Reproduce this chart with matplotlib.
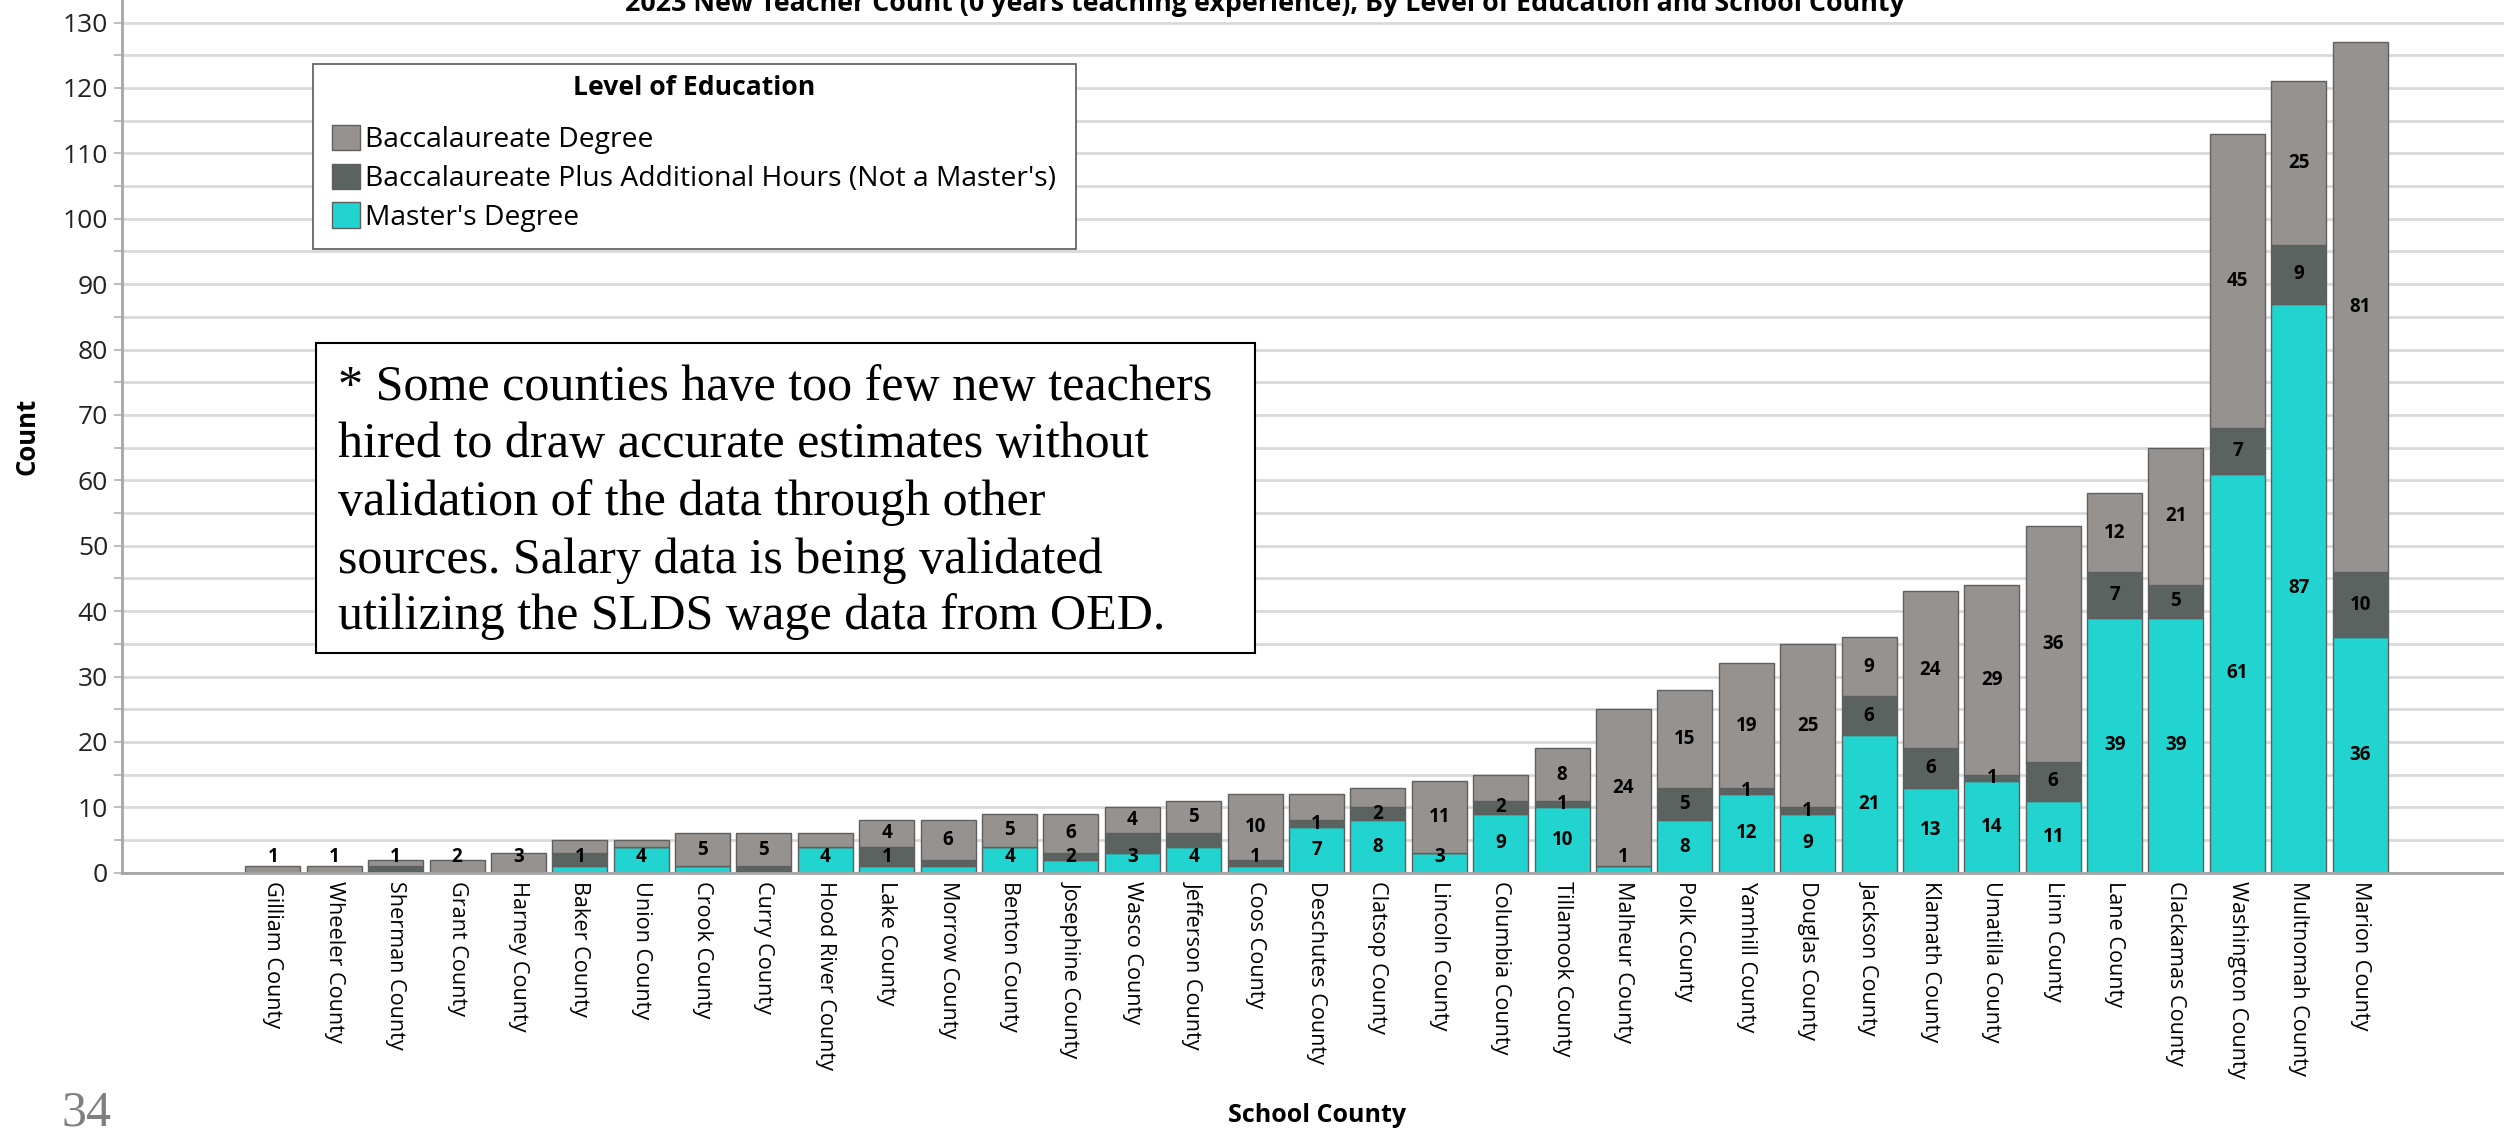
import numpy as np
import matplotlib
matplotlib.use("Agg")
import matplotlib.pyplot as plt
from matplotlib import font_manager as fm
from matplotlib.patches import Rectangle

# ---------------- data ----------------
counties = ["Gilliam County", "Wheeler County", "Sherman County", "Grant County", "Harney County",
            "Baker County", "Union County", "Crook County", "Curry County", "Hood River County",
            "Lake County", "Morrow County", "Benton County", "Josephine County", "Wasco County",
            "Jefferson County", "Coos County", "Deschutes County", "Clatsop County", "Lincoln County",
            "Columbia County", "Tillamook County", "Malheur County", "Polk County", "Yamhill County",
            "Douglas County", "Jackson County", "Klamath County", "Umatilla County", "Linn County",
            "Lane County", "Clackamas County", "Washington County", "Multnomah County", "Marion County"]
masters = [0, 0, 0, 0, 0, 1, 4, 1, 0, 4, 1, 1, 4, 2, 3, 4, 1, 7, 8, 3,
           9, 10, 1, 8, 12, 9, 21, 13, 14, 11, 39, 39, 61, 87, 36]
bacc_plus = [0, 0, 1, 0, 0, 2, 0, 0, 1, 0, 3, 1, 0, 1, 3, 2, 1, 1, 2, 0,
             2, 1, 0, 5, 1, 1, 6, 6, 1, 6, 7, 5, 7, 9, 10]
bacc = [1, 1, 1, 2, 3, 2, 1, 5, 5, 2, 4, 6, 5, 6, 4, 5, 10, 4, 3, 11,
        4, 8, 24, 15, 19, 25, 9, 24, 29, 36, 12, 21, 45, 25, 81]
# segments whose value label is not shown in the reference
hidden_masters = ["Crook County", "Morrow County"]
hidden_plus = ["Sherman County", "Baker County", "Curry County", "Lake County", "Morrow County",
               "Josephine County", "Wasco County", "Jefferson County", "Coos County"]
hidden_bacc = ["Baker County", "Union County", "Hood River County", "Deschutes County",
               "Clatsop County", "Columbia County"]
series_names = ["Baccalaureate Degree", "Baccalaureate Plus Additional Hours (Not a Master's)",
                "Master's Degree"]
legend_title = "Level of Education"
title = "2023 New Teacher Count (0 years teaching experience), By Level of Education and School County"
note_lines = ["* Some counties have too few new teachers",
              "hired to draw accurate estimates without",
              "validation of the data through other",
              "sources. Salary data is being validated",
              "utilizing the SLDS wage data from OED."]
y_ticks = list(range(0, 131, 10))

# ---------------- fonts ----------------
names = {f.name for f in fm.fontManager.ttflist}
def pick(*cands):
    for c in cands:
        if c in names:
            return c
    return "DejaVu Sans"
SANS = pick("Open Sans", "Lato", "DejaVu Sans")
NARROW = pick("Liberation Sans Narrow", "Open Sans", "DejaVu Sans")
SERIF = pick("Liberation Serif", "DejaVu Serif")
plt.rcParams["font.family"] = [SANS, "DejaVu Sans"]

C_BACC = "#969290"
C_PLUS = "#5a635f"
C_MAST = "#22d4d0"
EDGE = "#5f5f5f"

W, H = 2504, 1130
fig = plt.figure(figsize=(W / 100, H / 100), dpi=100)
fig.patch.set_facecolor("white")
renderer = fig.canvas.get_renderer()
y0_px = 872.7
ax = fig.add_axes([122 / W, 1 - y0_px / H, 1 - 122 / W, y0_px / H])

x = np.arange(len(counties))
m = np.array(masters, float)
p = np.array(bacc_plus, float)
b = np.array(bacc, float)
bw = 0.896
bm = ax.bar(x, m, width=bw, color=C_MAST, edgecolor=EDGE, linewidth=1.0, zorder=3, label=series_names[2])
bp = ax.bar(x, p, width=bw, bottom=m, color=C_PLUS, edgecolor=EDGE, linewidth=1.0, zorder=3, label=series_names[1])
bb = ax.bar(x, b, width=bw, bottom=m + p, color=C_BACC, edgecolor=EDGE, linewidth=1.0, zorder=3, label=series_names[0])

ax.set_xlim(-2.457, len(counties) - 1 + 2.343)
ax.set_ylim(0, y0_px / 6.54)
ax.set_yticks(y_ticks)
ax.set_yticks(list(range(5, 131, 10)), minor=True)
ax.grid(axis="y", which="both", color="#d9d9d9", linewidth=2, zorder=0)
ax.set_axisbelow(True)
ax.tick_params(axis="y", which="both", length=6, width=1.5, color="#bfbfbf", labelsize=19,
               labelcolor="#222222", pad=4)
ax.set_xticks(x)
ax.set_xticklabels(counties, rotation=270, fontsize=15.6, va="top", ha="center")
ax.tick_params(axis="x", length=0, pad=6)
for s in ["top", "right"]:
    ax.spines[s].set_visible(False)
for s in ["left", "bottom"]:
    ax.spines[s].set_color("#a6a6a6")
    ax.spines[s].set_linewidth(2)
    ax.spines[s].set_zorder(4)

ax.set_ylabel("Count", fontsize=18.5, fontweight="bold", va="center")
ax.yaxis.set_label_coords((27 - 122) / (W - 122), 0.5)
fig.text(1317 / W, 1 - 1115 / H, "School County", ha="center", va="center",
         fontsize=18, fontweight="bold")

# value labels
def put_labels(vals, bottoms, hidden):
    for i, (v, bt) in enumerate(zip(vals, bottoms)):
        if v <= 0 or counties[i] in hidden:
            continue
        yc = max(bt + v / 2.0, 2.4)
        ax.text(x[i], yc, f"{int(v)}", ha="center", va="center", fontsize=13.5,
                fontweight="bold", color="black", zorder=5)

put_labels(m, np.zeros_like(m), hidden_masters)
put_labels(p, m, hidden_plus)
put_labels(b, m + p, hidden_bacc)

def width_of(text, family, size, weight="normal"):
    t = fig.text(0, 0, text, fontsize=size, family=family, fontweight=weight)
    w = t.get_window_extent(renderer).width
    t.remove()
    return w

# ---------------- legend ----------------
LFS = 18 * 692 / width_of(series_names[1], [SANS, "DejaVu Sans"], 18)
TFS = 18 * 242 / width_of(legend_title, [SANS, "DejaVu Sans"], 18, "bold")
lfs_px = LFS * 100 / 72.0

def make_legend(ls, ax_x, ax_y):
    lg = ax.legend(handles=[bb, bp, bm], labels=series_names, loc="upper left",
                   bbox_to_anchor=(ax_x / W, 1 - ax_y / H), bbox_transform=fig.transFigure,
                   prop={"family": SANS, "size": LFS}, frameon=False,
                   handlelength=28.6 / lfs_px, handleheight=29 / lfs_px, handletextpad=5 / lfs_px,
                   labelspacing=ls, borderpad=0, borderaxespad=0)
    lg.set_zorder(10)
    return lg

def handle_centers(lg):
    fig.canvas.draw()
    out = []
    for h in lg.legend_handles:
        bb_ = h.get_window_extent(renderer)
        out.append(((bb_.x0 + bb_.x1) / 2, H - (bb_.y0 + bb_.y1) / 2, bb_.x0))
    return out

ls = 0.3
ax_x, ax_y = 331.6, 122.0
leg = make_legend(ls, ax_x, ax_y)
for _ in range(2):
    c = handle_centers(leg)
    pitch = (c[2][1] - c[0][1]) / 2
    ls = ls + (38.9 - pitch) / lfs_px
    ax_y += 137.5 - c[0][1]
    ax_x += 331.6 - c[0][2]
    leg.remove()
    leg = make_legend(ls, ax_x, ax_y)
    c = handle_centers(leg)
    ax_y += 137.5 - c[0][1]
    leg.remove()
    leg = make_legend(ls, ax_x, ax_y)

ax.add_patch(Rectangle((313 / W, 1 - 249 / H), (1076 - 313) / W, (249 - 64) / H,
                       transform=fig.transFigure, facecolor="white", edgecolor="#595959",
                       linewidth=1.2, zorder=8, clip_on=False))
ax.text(694 / W, 1 - 95 / H, legend_title, transform=fig.transFigure, ha="center", va="baseline",
        fontsize=TFS, fontweight="bold", zorder=11, clip_on=False)

# title (cut off by the figure top, as in the reference)
tt = fig.text(1265 / W, 1 - 11 / H, title, ha="center", va="baseline", fontsize=20,
              fontweight="bold", family=[NARROW, "DejaVu Sans"], color="black")
tt.set_fontsize(20 * 1279 / tt.get_window_extent(renderer).width)

# note box
fig.add_artist(Rectangle((316 / W, 1 - 653 / H), (1255 - 316) / W, (653 - 343) / H,
                         transform=fig.transFigure, facecolor="white", edgecolor="black",
                         linewidth=1.5, zorder=20))
targets = np.array([875, 838, 725, 771, 793], float)
ws = np.array([width_of(l, [SERIF, "DejaVu Serif"], 34) for l in note_lines])
NFS = 34 * (ws * targets).sum() / (ws * ws).sum()
base = [400, 457.5, 515, 572.5, 629]
for line, yb in zip(note_lines, base):
    fig.text(338 / W, 1 - yb / H, line, ha="left", va="baseline", fontsize=NFS,
             family=[SERIF, "DejaVu Serif"], color="black", zorder=21)

fig.text(61 / W, 1 - 1125 / H, "34", ha="left", va="baseline", fontsize=36,
         family=[SERIF, "DejaVu Serif"], color="#7f7f7f")

fig.savefig("out.png", dpi=100, facecolor="white")
